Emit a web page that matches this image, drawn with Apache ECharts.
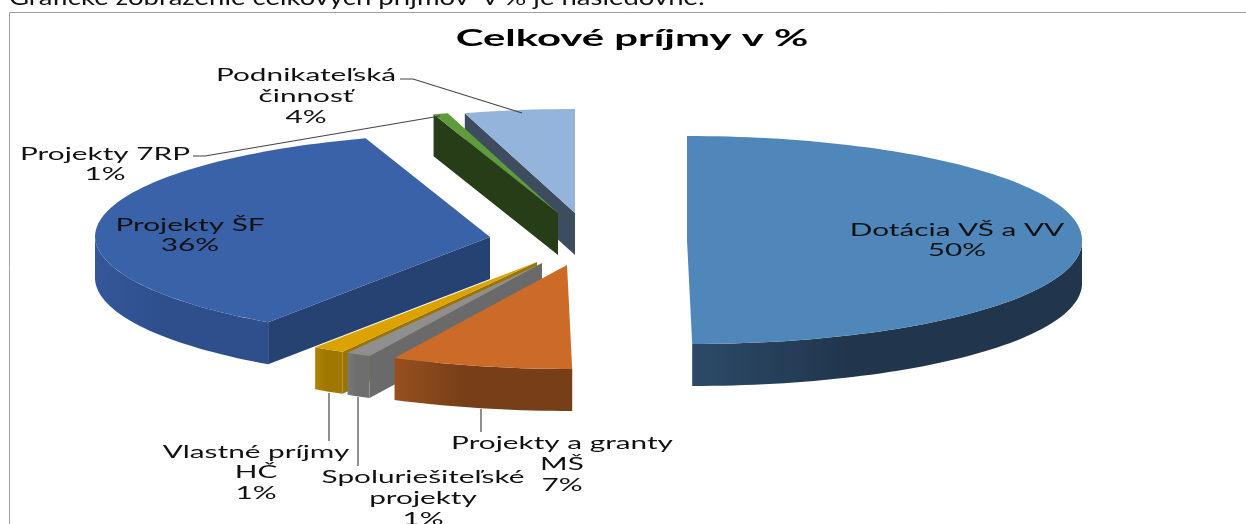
<!DOCTYPE html>
<html>
<head>
<meta charset="utf-8">
<style>html,body{margin:0;padding:0;background:#fff}#c{width:1246px;height:524px}</style>
<script src="https://cdn.jsdelivr.net/npm/echarts@6/dist/echarts.min.js"></script>
</head>
<body>
<div id="c"></div>
<script>
// ---- data ----
const categories = ['Dotácia VŠ a VV','Projekty a granty\nMŠ','Spoluriešiteľské\nprojekty','Vlastné príjmy\nHČ','Projekty ŠF','Projekty 7RP','Podnikateľská\nčinnosť'];
const shares = [50.0, 7.4, 1.0, 1.3, 35.2, 0.6, 4.5];
const percentLabels = ['50%','7%','1%','1%','36%','1%','4%'];
const titleText = 'Celkové príjmy v %';
const captionText = 'Grafické zobrazenie celkových príjmov  v % je nasledovné:';

// ---- layout & style ----
const center = [568, 240], rx = 395, ry = 104, depth = 42, skew = 0.05;
const explode = [[119,0],[-1,25],[-26,23],[-31,22],[-78,-3],[-10,-27],[7,-27]];
const paintOrder = [1,7,6,5,4,3,2];
const topColor = ['#4f87ba','#cc6b28','#8f8f8f','#dca300','#3a62a8','#5f9a3c','#95b4dc'];
const arcColor = [['#2c4a68','#21364d'],['#984f1f','#763f17'],['#787878','#6e6e6e'],['#b08400','#a07800'],['#34579a','#2e4f8c'],['#263d17','#263d17'],['#3d4c5f','#3d4c5f']];
const edgeColor = ['#21364d','#763f17','#6a6a6a','#9a7400','#264272','#263d17','#3d4c5f'];
const labelPos = [[957,240.5],[562,464.5],[423,498.5],[256,473],[190,235.5],[105,164.5],[306,96.5]];
const leaders = [null,[[481,409],[481,432]],[[358,397],[358,466]],[[329,393],[329,441]],null,[[193,156],[205,156],[440,116]],[[400,79],[413,79],[522,113]]];
const labelFont = 'Lato, "Noto Sans", sans-serif', labelSize = 17, labelLine = 20.7, labelStretch = 1.75;

const startAngle = [];
shares.reduce((a, v, i) => { startAngle[i] = a; return a + v * 3.6; }, 0);

function rimPoint(apex, deg, drop) {
  const t = deg * Math.PI / 180;
  const dx = rx * Math.sin(t), dy = -ry * Math.cos(t);
  return [apex[0] + dx + skew * Math.max(0, dy), apex[1] + dy + drop];
}
function sampled(from, to) {
  const out = [], n = Math.max(2, Math.ceil(Math.abs(to - from) / 1.5));
  for (let k = 0; k <= n; k++) out.push(from + (to - from) * k / n);
  return out;
}
function renderSlice(params, api) {
  const i = params.dataIndex, val = api.value(0);
  const s = startAngle[i], e = s + val * 3.6;
  const apex = [center[0] + explode[i][0], center[1] + explode[i][1]];
  const z = paintOrder[i] * 10, kids = [];
  // outer wall, only where the rim faces the viewer
  const a0 = Math.max(s, 90), a1 = Math.min(e, 270);
  if (a1 > a0) {
    const upper = sampled(a0, a1).map(d => rimPoint(apex, d, 0));
    const lower = sampled(a1, a0).map(d => rimPoint(apex, d, depth));
    kids.push({type:'polygon', z2:z, shape:{points:upper.concat(lower)},
      style:{fill:new echarts.graphic.LinearGradient(1,0,0,0,[{offset:0,color:arcColor[i][1]},{offset:0.6,color:arcColor[i][1]},{offset:1,color:arcColor[i][0]}])}});
  }
  // cut face below a radial edge
  const radial = (d) => {
    const r = rimPoint(apex, d, 0);
    kids.push({type:'polygon', z2:z+1, shape:{points:[apex, r, [r[0], r[1]+depth], [apex[0], apex[1]+depth]]}, style:{fill:edgeColor[i]}});
  };
  if (Math.sin(s*Math.PI/180) < -0.01) radial(s);
  if (Math.sin(e*Math.PI/180) > 0.01) radial(e);
  // top face
  kids.push({type:'polygon', z2:z+2, shape:{points:[apex].concat(sampled(s, e).map(d => rimPoint(apex, d, 0)))}, style:{fill:topColor[i]}});
  return {type:'group', children:kids};
}
function renderLabel(params, api) {
  const i = params.dataIndex, kids = [];
  if (leaders[i]) kids.push({type:'polyline', shape:{points:leaders[i]}, style:{stroke:'#444', lineWidth:1.2, fill:null}});
  kids.push({type:'text', x:labelPos[i][0], y:labelPos[i][1], scaleX:labelStretch,
    style:{text:categories[i] + '\n' + percentLabels[i], x:0, y:0, align:'center', verticalAlign:'middle',
      font:labelSize + 'px ' + labelFont, lineHeight:labelLine, fill:'#111'}});
  return {type:'group', children:kids};
}
const chart = echarts.init(document.getElementById('c'), null, {renderer:'canvas', width:1246, height:524});
chart.setOption({
  animation:false,
  backgroundColor:'#ffffff',
  graphic:[
    {type:'polyline', shape:{points:[[9.5,524],[9.5,12.5],[1246,12.5]]}, style:{stroke:'#a0a0a0', lineWidth:1, fill:null}},
    {type:'text', x:9, y:-2, scaleX:1.25, style:{text:captionText, font:'22px Lato, sans-serif', fill:'#111', verticalAlign:'middle', align:'left'}},
    {type:'text', x:632, y:39, scaleX:1.82, style:{text:titleText, font:'bold 23px Lato, sans-serif', fill:'#000', align:'center', verticalAlign:'middle'}}
  ],
  series:[
    {type:'custom', coordinateSystem:'none', data:shares.map(v=>[v]), renderItem:renderSlice, silent:true, z:2},
    {type:'custom', coordinateSystem:'none', data:shares.map(v=>[v]), renderItem:renderLabel, silent:true, z:3}
  ]
});
</script>
</body>
</html>
